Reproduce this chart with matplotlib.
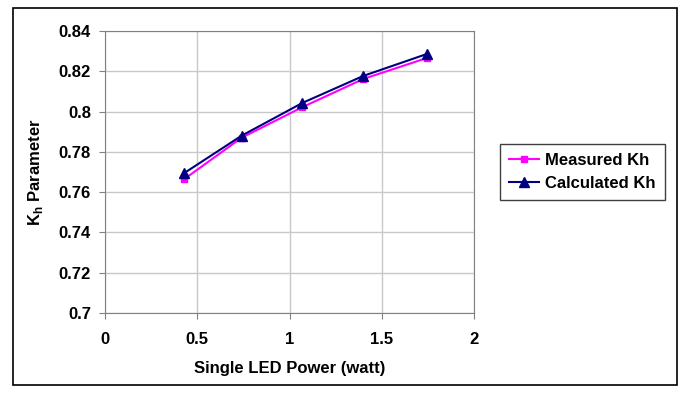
import matplotlib
matplotlib.use("Agg")
from matplotlib import pyplot as plt
from matplotlib.patches import Rectangle

plt.rcParams['font.family'] = ['Liberation Sans', 'DejaVu Sans']
plt.rcParams['font.weight'] = 'bold'

power = [0.43, 0.74, 1.07, 1.40, 1.745]
measured_kh = [0.7665, 0.787, 0.8022, 0.8162, 0.8266]
calculated_kh = [0.7695, 0.788, 0.8043, 0.8177, 0.8286]

xticks = [0, 0.5, 1, 1.5, 2]
xtick_labels = ['0', '0.5', '1', '1.5', '2']
yticks = [0.70, 0.72, 0.74, 0.76, 0.78, 0.80, 0.82, 0.84]
ytick_labels = ['0.7', '0.72', '0.74', '0.76', '0.78', '0.8', '0.82', '0.84']

fig = plt.figure(figsize=(6.84, 3.97), dpi=100)
fig.patches.append(Rectangle((13/684, 1 - 385/397), 664/684, 377/397,
                             transform=fig.transFigure, fill=False,
                             edgecolor='black', linewidth=1.2))

ax = fig.add_axes([105/684, 1 - 313/397, 369/684, 282/397])
ax.plot(power, measured_kh, color='#ff00ff', marker='s', markersize=5,
        linewidth=1.5, label='Measured Kh')
ax.plot(power, calculated_kh, color='#000080', marker='^', markersize=6.5,
        linewidth=1.5, label='Calculated Kh')

ax.set_xlim(0, 2)
ax.set_ylim(0.7, 0.84)
ax.set_xticks(xticks)
ax.set_xticklabels(xtick_labels)
ax.set_yticks(yticks)
ax.set_yticklabels(ytick_labels)
ax.tick_params(labelsize=12, length=4, color='#808080', pad=6)
ax.tick_params(axis='x', pad=10)
ax.grid(True, color='#c8c8c8', linewidth=1)
ax.set_axisbelow(True)
for s in ax.spines.values():
    s.set_color('#808080')

ax.set_xlabel('Single LED Power (watt)', fontsize=12, fontweight='bold', labelpad=10)
ax.set_ylabel(r'K$_\mathregular{h}$ Parameter', fontsize=12, fontweight='bold', labelpad=10)

leg = ax.legend(loc='center left', bbox_to_anchor=(500/684, 1 - 172/397),
                bbox_transform=fig.transFigure, fancybox=False, framealpha=1,
                edgecolor='#404040', prop={'size': 12, 'weight': 'bold'},
                handlelength=1.8, handletextpad=0.35, borderpad=0.55,
                labelspacing=0.45, borderaxespad=0)
leg.get_frame().set_linewidth(1.0)

fig.savefig('out.png', dpi=100)
